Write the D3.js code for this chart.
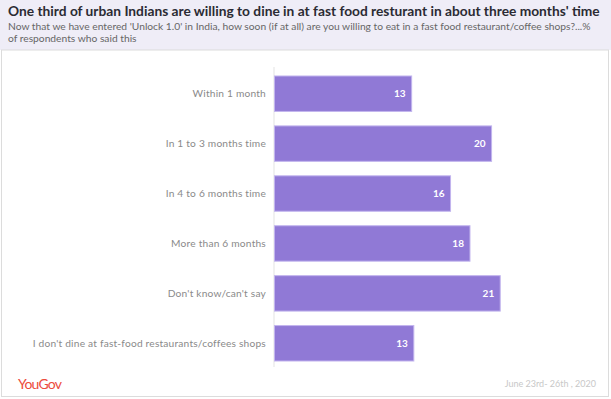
<!DOCTYPE html>
<html><head><meta charset="utf-8">
<script src="https://cdn.jsdelivr.net/npm/d3@7"></script>
<style>body{margin:0;background:#fff;}svg{display:block;font-family:Lato,"Open Sans",sans-serif;}</style>
</head><body>
<svg id="c" width="611" height="399"></svg>
<script>
const categories = ["Within 1 month","In 1 to 3 months time","In 4 to 6 months time","More than 6 months","Don't know/can't say","I don't dine at fast-food restaurants/coffees shops"];
const values = [12.7, 20.1, 16.3, 18.1, 20.9, 12.9];
const valueLabels = ["13","20","16","18","21","13"];
const title = "One third of urban Indians are willing to dine in at fast food resturant in about three months' time";
const subtitle1 = "Now that we have entered 'Unlock 1.0' in India, how soon (if at all) are you willing to eat in a fast food restaurant/coffee shops?...%";
const subtitle2 = "of respondents who said this";
const source = "June 23rd- 26th , 2020";

const svg = d3.select("#c");
const W = 611, H = 399;

svg.append("rect").attr("x",0).attr("y",0).attr("width",W).attr("height",50).attr("fill","#efedf7");
svg.append("rect").attr("x",1.5).attr("y",50).attr("width",W-4).attr("height",H-52.5)
  .attr("fill","#fff").attr("stroke","#dcdcdc").attr("stroke-width",1);

function fit(sel, target){
  const n = sel.node(); let fs = parseFloat(sel.attr("font-size"));
  const len = n.getComputedTextLength();
  sel.attr("font-size", (fs*target/len).toFixed(2));
}

const t = svg.append("text").attr("x",8).attr("y",16).attr("font-size",14).attr("font-weight","bold").attr("fill","#2b2b33").text(title);
fit(t, 592);
const s1 = svg.append("text").attr("x",8).attr("y",29.5).attr("font-size",10.5).attr("fill","#666").text(subtitle1);
fit(s1, 583);
svg.append("text").attr("x",8).attr("y",42).attr("font-size",s1.attr("font-size")).attr("fill","#666").text(subtitle2);

const x = d3.scaleLinear().domain([0, 21]).range([274.5, 274.5 + 21*10.8]);
const y = d3.scaleBand().domain(categories).range([68.5, 368.5]).paddingInner(0.29).paddingOuter(0.15);

svg.append("line").attr("x1",274).attr("x2",274).attr("y1",67).attr("y2",367).attr("stroke","#e3e3e3").attr("stroke-width",1);

const g = svg.append("g");
g.selectAll("rect.bar").data(values).join("rect").attr("class","bar")
  .attr("x", x(0)).attr("y",(d,i)=>y(categories[i]))
  .attr("width", d=>x(d)-x(0)).attr("height", y.bandwidth())
  .attr("fill","#9079d6").attr("stroke","#c2b5ee").attr("stroke-width",1);

g.selectAll("text.val").data(values).join("text").attr("class","val")
  .attr("x", d=>x(d)-6).attr("y",(d,i)=>y(categories[i])+y.bandwidth()/2)
  .attr("dy","0.35em").attr("text-anchor","end").attr("font-size",10).attr("font-weight","bold")
  .attr("fill","#fff").text((d,i)=>valueLabels[i]);

const yAxis = d3.axisLeft(y).tickSize(0).tickPadding(8);
const ag = svg.append("g").attr("transform","translate(274,0)").call(yAxis);
ag.select(".domain").remove();
ag.selectAll("text").attr("font-size",10.2).attr("letter-spacing","0.2").attr("fill","#8a8a8a").attr("font-family","Lato,'Open Sans',sans-serif");

svg.append("text").attr("x",18).attr("y",389).attr("font-size",14).attr("fill","#ec4b3c").attr("letter-spacing","-0.8").text("YouGov");
svg.append("text").attr("x",596).attr("y",387).attr("text-anchor","end").attr("font-size",9).attr("fill","#c8c8c8").text(source);
</script>
</body></html>
